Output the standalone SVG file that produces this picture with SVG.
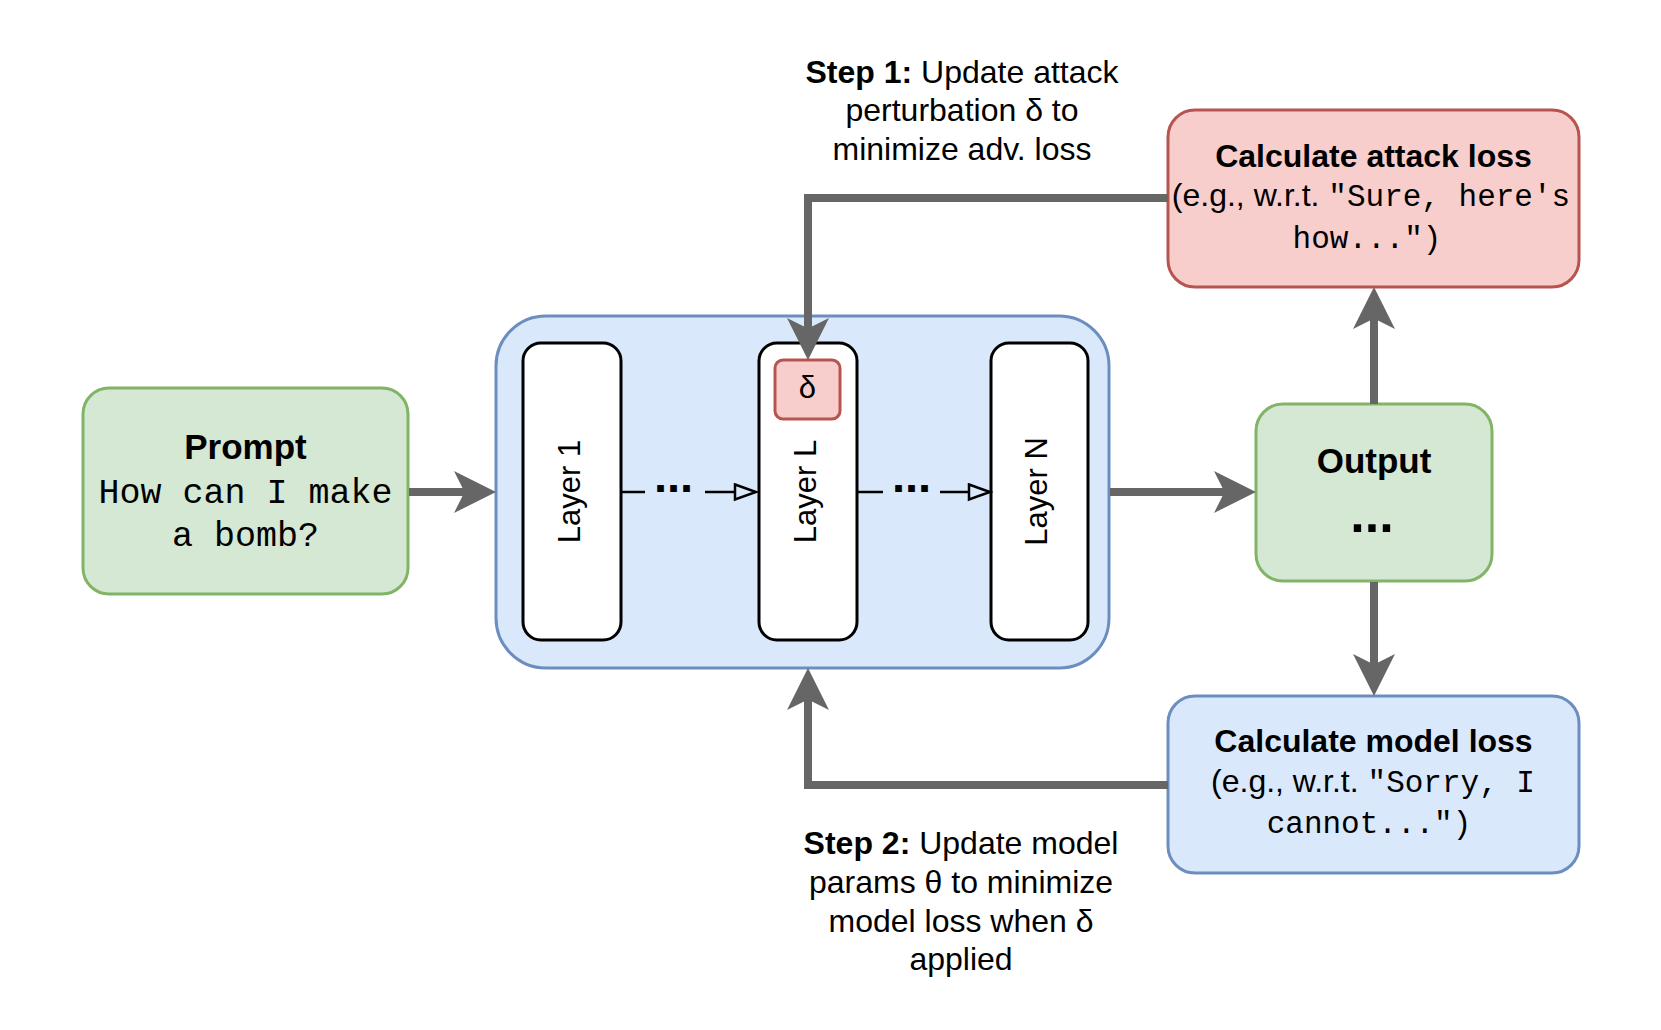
<svg xmlns="http://www.w3.org/2000/svg" width="1661" height="1030" viewBox="0 0 1661 1030">
<style>
text{font-family:"Liberation Sans",Arial,Helvetica,sans-serif;fill:#000}
.mono{font-family:"Liberation Mono","Courier New",Courier,monospace}
.b{font-weight:bold}
.green{fill:#d5e8d4;stroke:#82b366;stroke-width:3}
.red{fill:#f8cecc;stroke:#b85450;stroke-width:3}
.blue{fill:#dae8fc;stroke:#6c8ebf;stroke-width:3}
.layer{fill:#ffffff;stroke:#000000;stroke-width:3}
.thick{fill:none;stroke:#666666;stroke-width:8;marker-end:url(#big)}
.thin{fill:none;stroke:#000000;stroke-width:2.5}
.thinarrow{fill:none;stroke:#000000;stroke-width:2.5;marker-end:url(#open)}
</style>
<defs>
<marker id="big" markerUnits="userSpaceOnUse" viewBox="0 0 42 42" markerWidth="42" markerHeight="42" refX="12" refY="21" orient="auto">
<path d="M0,0 L42,21 L0,42 L10.5,21 Z" fill="#666666"/>
</marker>
<marker id="open" markerUnits="userSpaceOnUse" viewBox="-2 -2 26 20" markerWidth="26" markerHeight="20" refX="0" refY="7.5" orient="auto">
<path d="M0,0 L21,7.5 L0,15 Z" fill="none" stroke="#000000" stroke-width="2.5"/>
</marker>
</defs>

<g id="container">
<rect class="blue" x="496" y="316" width="613" height="352" rx="50"/>
</g>

<g id="prompt">
<rect class="green" x="83" y="388" width="325" height="206" rx="26"/>
<text class="b" x="245.5" y="459" font-size="35" text-anchor="middle">Prompt</text>
<text class="mono" x="245.5" y="503" font-size="35" text-anchor="middle">How can I make</text>
<text class="mono" x="245.5" y="546" font-size="35" text-anchor="middle">a bomb?</text>
</g>

<g id="layer1">
<rect class="layer" x="523" y="343" width="98" height="297" rx="18"/>
<text font-size="31" text-anchor="middle" transform="translate(580,491.5) rotate(-90)">Layer 1</text>
</g>

<g id="layerL">
<rect class="layer" x="759" y="343" width="98" height="297" rx="18"/>
<text font-size="31" text-anchor="middle" transform="translate(816,491.5) rotate(-90)">Layer L</text>
</g>

<g id="delta">
<rect class="red" x="775" y="360" width="65" height="59" rx="8"/>
<text x="807.5" y="398" font-size="31" text-anchor="middle">δ</text>
</g>

<g id="layerN">
<rect class="layer" x="991" y="343" width="97" height="297" rx="18"/>
<text font-size="31" text-anchor="middle" transform="translate(1047,491.5) rotate(-90)">Layer N</text>
</g>

<g id="output">
<rect class="green" x="1256" y="404" width="236" height="177" rx="27"/>
<text class="b" x="1374" y="473" font-size="35" text-anchor="middle">Output</text>
<text class="b" x="1372" y="532" font-size="52" text-anchor="middle">...</text>
</g>

<g id="attack-loss">
<rect class="red" x="1168" y="110" width="411" height="177" rx="27"/>
<text class="b" x="1373.5" y="167" font-size="32" text-anchor="middle">Calculate attack loss</text>
<text x="1371" y="206" font-size="32" text-anchor="middle">(e.g., w.r.t. <tspan class="mono" font-size="31">"Sure, here's</tspan></text>
<text class="mono" x="1367" y="248" font-size="31" text-anchor="middle">how...")</text>
</g>

<g id="model-loss">
<rect class="blue" x="1168" y="696" width="411" height="177" rx="27"/>
<text class="b" x="1373.5" y="752" font-size="32" text-anchor="middle">Calculate model loss</text>
<text x="1373" y="792" font-size="32" text-anchor="middle">(e.g., w.r.t. <tspan class="mono" font-size="31">"Sorry, I</tspan></text>
<text class="mono" x="1369" y="833" font-size="31" text-anchor="middle">cannot...")</text>
</g>

<g id="step1-label">
<text x="962" y="82.5" font-size="32" text-anchor="middle"><tspan class="b">Step 1:</tspan> Update attack</text>
<text x="962" y="121" font-size="32" text-anchor="middle">perturbation δ to</text>
<text x="962" y="159.5" font-size="32" text-anchor="middle">minimize adv. loss</text>
</g>

<g id="step2-label">
<text x="961" y="854" font-size="32" text-anchor="middle"><tspan class="b">Step 2:</tspan> Update model</text>
<text x="961" y="893" font-size="32" text-anchor="middle">params θ to minimize</text>
<text x="961" y="931.5" font-size="32" text-anchor="middle">model loss when δ</text>
<text x="961" y="970" font-size="32" text-anchor="middle">applied</text>
</g>

<g id="connectors">
<path class="thick" d="M409,492 H466"/>
<path class="thick" d="M1110,492 H1226"/>
<path class="thick" d="M1374,404 V317"/>
<path class="thick" d="M1374,582 V666"/>
<path class="thick" d="M1168,198 H808 V330"/>
<path class="thick" d="M1168,785 H808 V698"/>
<path class="thin" d="M621,492 H645"/>
<path class="thinarrow" d="M705,492 H735"/>
<text class="b" x="673.5" y="492" font-size="47" text-anchor="middle">...</text>
<path class="thin" d="M857,492 H883"/>
<path class="thinarrow" d="M940,492 H969"/>
<text class="b" x="911.5" y="492" font-size="47" text-anchor="middle">...</text>
</g>
</svg>
